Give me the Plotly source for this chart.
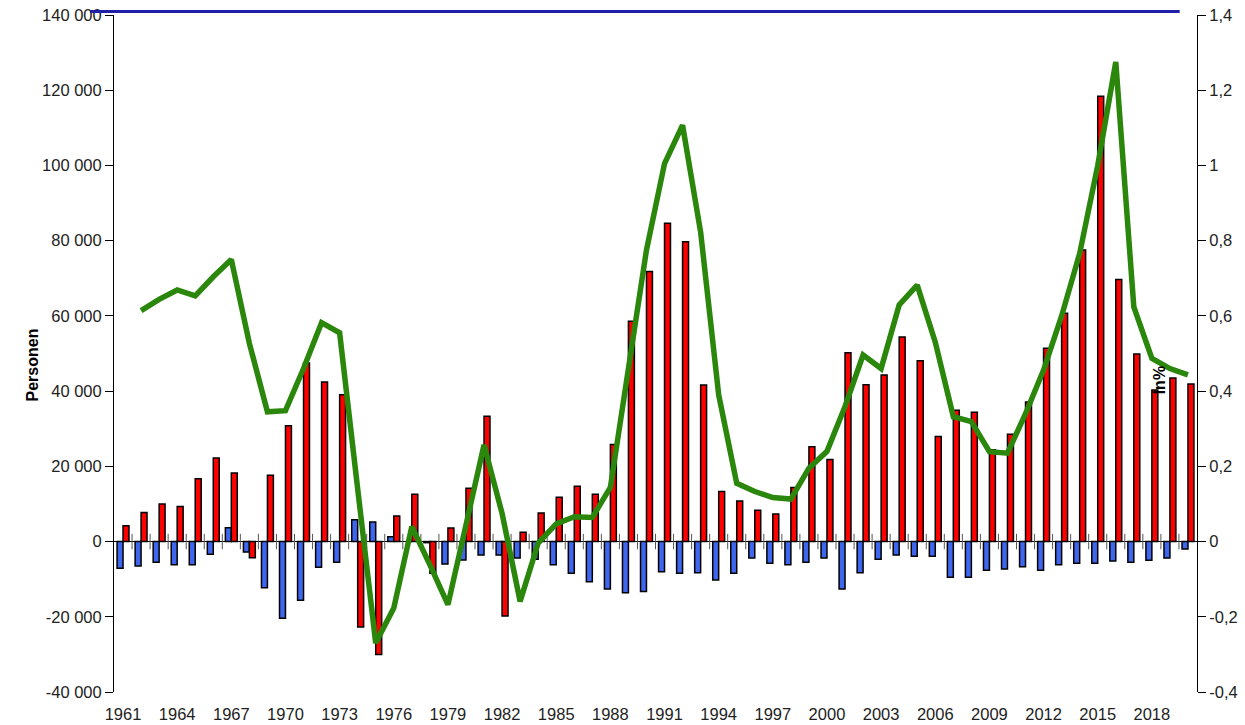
import plotly.graph_objects as go

years = list(range(1961, 2021))

# Blue bars (Personen)
saldo_blau = [-7100, -6500, -5500, -6200, -6200, -3400, 3700, -2800, -12300, -20400,
              -15600, -6800, -5500, 5800, 5200, 1300, 0, -300, -6000, -4900,
              -3600, -3600, -4400, -4700, -6200, -8400, -10700, -12600, -13600, -13300,
              -8000, -8400, -8300, -10200, -8400, -4400, -5800, -6200, -5500, -4400,
              -12600, -8300, -4700, -3600, -3900, -3900, -9500, -9500, -7600, -7300,
              -6700, -7600, -6200, -5800, -5800, -5200, -5500, -5000, -4400, -2000]

# Red bars (Personen)
saldo_rot = [4200, 7700, 10000, 9300, 16700, 22200, 18200, -4300, 17600, 30800,
             47500, 42400, 39000, -22700, -30000, 6800, 12600, -8400, 3600, 14200,
             33300, -19800, 2500, 7600, 11800, 14700, 12600, 25800, 58600, 71800,
             84600, 79700, 41600, 13300, 10800, 8300, 7300, 14400, 25200, 21800,
             50200, 41700, 44300, 54400, 48100, 27900, 34900, 34400, 24400, 28500,
             37100, 51400, 60700, 77500, 118400, 69700, 49900, 40300, 43500, 41900]

# Green line (in %)
wachstum_pct = [None, 0.614, 0.644, 0.669, 0.653, 0.704, 0.750, 0.527, 0.345, 0.348,
                0.46, 0.582, 0.555, 0.14, -0.270, -0.177, 0.040, -0.062, -0.168, 0.044,
                0.257, 0.075, -0.159, -0.004, 0.047, 0.066, 0.064, 0.144, 0.456, 0.775,
                1.005, 1.107, 0.823, 0.39, 0.155, 0.133, 0.117, 0.113, 0.195, 0.240,
                0.359, 0.496, 0.460, 0.629, 0.682, 0.53, 0.332, 0.319, 0.239, 0.235,
                0.34, 0.456, 0.60, 0.766, 1.0, 1.275, 0.624, 0.487, 0.46, 0.443]

x_tick_years = list(range(1961, 2019, 3))
x_tick_text = [str(y) for y in x_tick_years]

left_tickvals = [-40000, -20000, 0, 20000, 40000, 60000, 80000, 100000, 120000, 140000]
left_ticktext = ["-40 000", "-20 000", "0", "20 000", "40 000", "60 000", "80 000",
                 "100 000", "120 000", "140 000"]
right_tickvals = [-0.4, -0.2, 0, 0.2, 0.4, 0.6, 0.8, 1.0, 1.2, 1.4]
right_ticktext = ["-0,4", "-0,2", "0", "0,2", "0,4", "0,6", "0,8", "1", "1,2", "1,4"]

FONT = "Liberation Sans, Arial, sans-serif"

fig = go.Figure()
fig.add_trace(go.Bar(x=years, y=saldo_blau, marker=dict(color="#3f66ee", line=dict(color="black", width=1.5)),
                     showlegend=False))
fig.add_trace(go.Bar(x=years, y=saldo_rot, marker=dict(color="#ff0000", line=dict(color="black", width=1.5)),
                     showlegend=False))

# category boundary tick marks on the zero line
boundaries = [y + 0.5 for y in years[:-1]]
fig.add_trace(go.Scatter(x=boundaries, y=[0] * len(boundaries), mode="markers",
                         marker=dict(symbol="line-ns-open", size=11, color="#555",
                                     line=dict(color="#555", width=1)),
                         hoverinfo="skip", showlegend=False, cliponaxis=False))

fig.add_trace(go.Scatter(x=years, y=wachstum_pct, mode="lines", yaxis="y2",
                         line=dict(color="#2b860c", width=5.5), showlegend=False))

fig.update_layout(
    width=1245, height=725,
    margin=dict(l=114, r=48, t=15, b=33, pad=0),
    paper_bgcolor="white", plot_bgcolor="white",
    barmode="group", bargap=0.34, bargroupgap=0,
    font=dict(family=FONT, size=16.5, color="#222"),
    showlegend=False,
    xaxis=dict(type="linear", range=[1960.5, 2020.5], tickmode="array",
               tickvals=x_tick_years, ticktext=x_tick_text, automargin=False,
               showline=False, showgrid=False, zeroline=False,
               ticks="outside", ticklen=7, tickcolor="rgba(0,0,0,0)"),
    yaxis=dict(range=[-40000, 140000], tickmode="array", tickvals=left_tickvals,
               ticktext=left_ticktext, showgrid=False, zeroline=True, zerolinecolor="black",
               zerolinewidth=1, showline=True, linecolor="black", linewidth=1, automargin=False,
               ticks="outside", ticklen=8, tickcolor="black"),
    yaxis2=dict(range=[-0.4, 1.4], overlaying="y", side="right", tickmode="array",
                tickvals=right_tickvals, ticktext=right_ticktext, showgrid=False,
                zeroline=False, showline=True, linecolor="black", linewidth=1, automargin=False,
                ticks="outside", ticklen=8, tickcolor="black"),
    annotations=[
        dict(text="<b>Personen</b>", x=-0.085, y=0.483, xref="paper", yref="paper",
             textangle=-90, showarrow=False, font=dict(size=16, color="black")),
        dict(text="<b>In%</b>", x=0.975, y=0.461, xref="paper", yref="paper",
             textangle=-90, showarrow=False, font=dict(size=16, color="black")),
    ],
    shapes=[
        dict(type="line", xref="paper", yref="paper", x0=-0.022, x1=0.984, y0=1.005, y1=1.005,
             line=dict(color="#1f1fa8", width=3)),
    ],
)

fig.write_html("out.html", config={"displayModeBar": False})

# remove the default page margin so the figure sits at the window's top-left corner
with open("out.html", "r", encoding="utf-8") as f:
    html = f.read()
html = html.replace("<body>", '<body style="margin:0;padding:0;overflow:hidden">', 1)
with open("out.html", "w", encoding="utf-8") as f:
    f.write(html)
